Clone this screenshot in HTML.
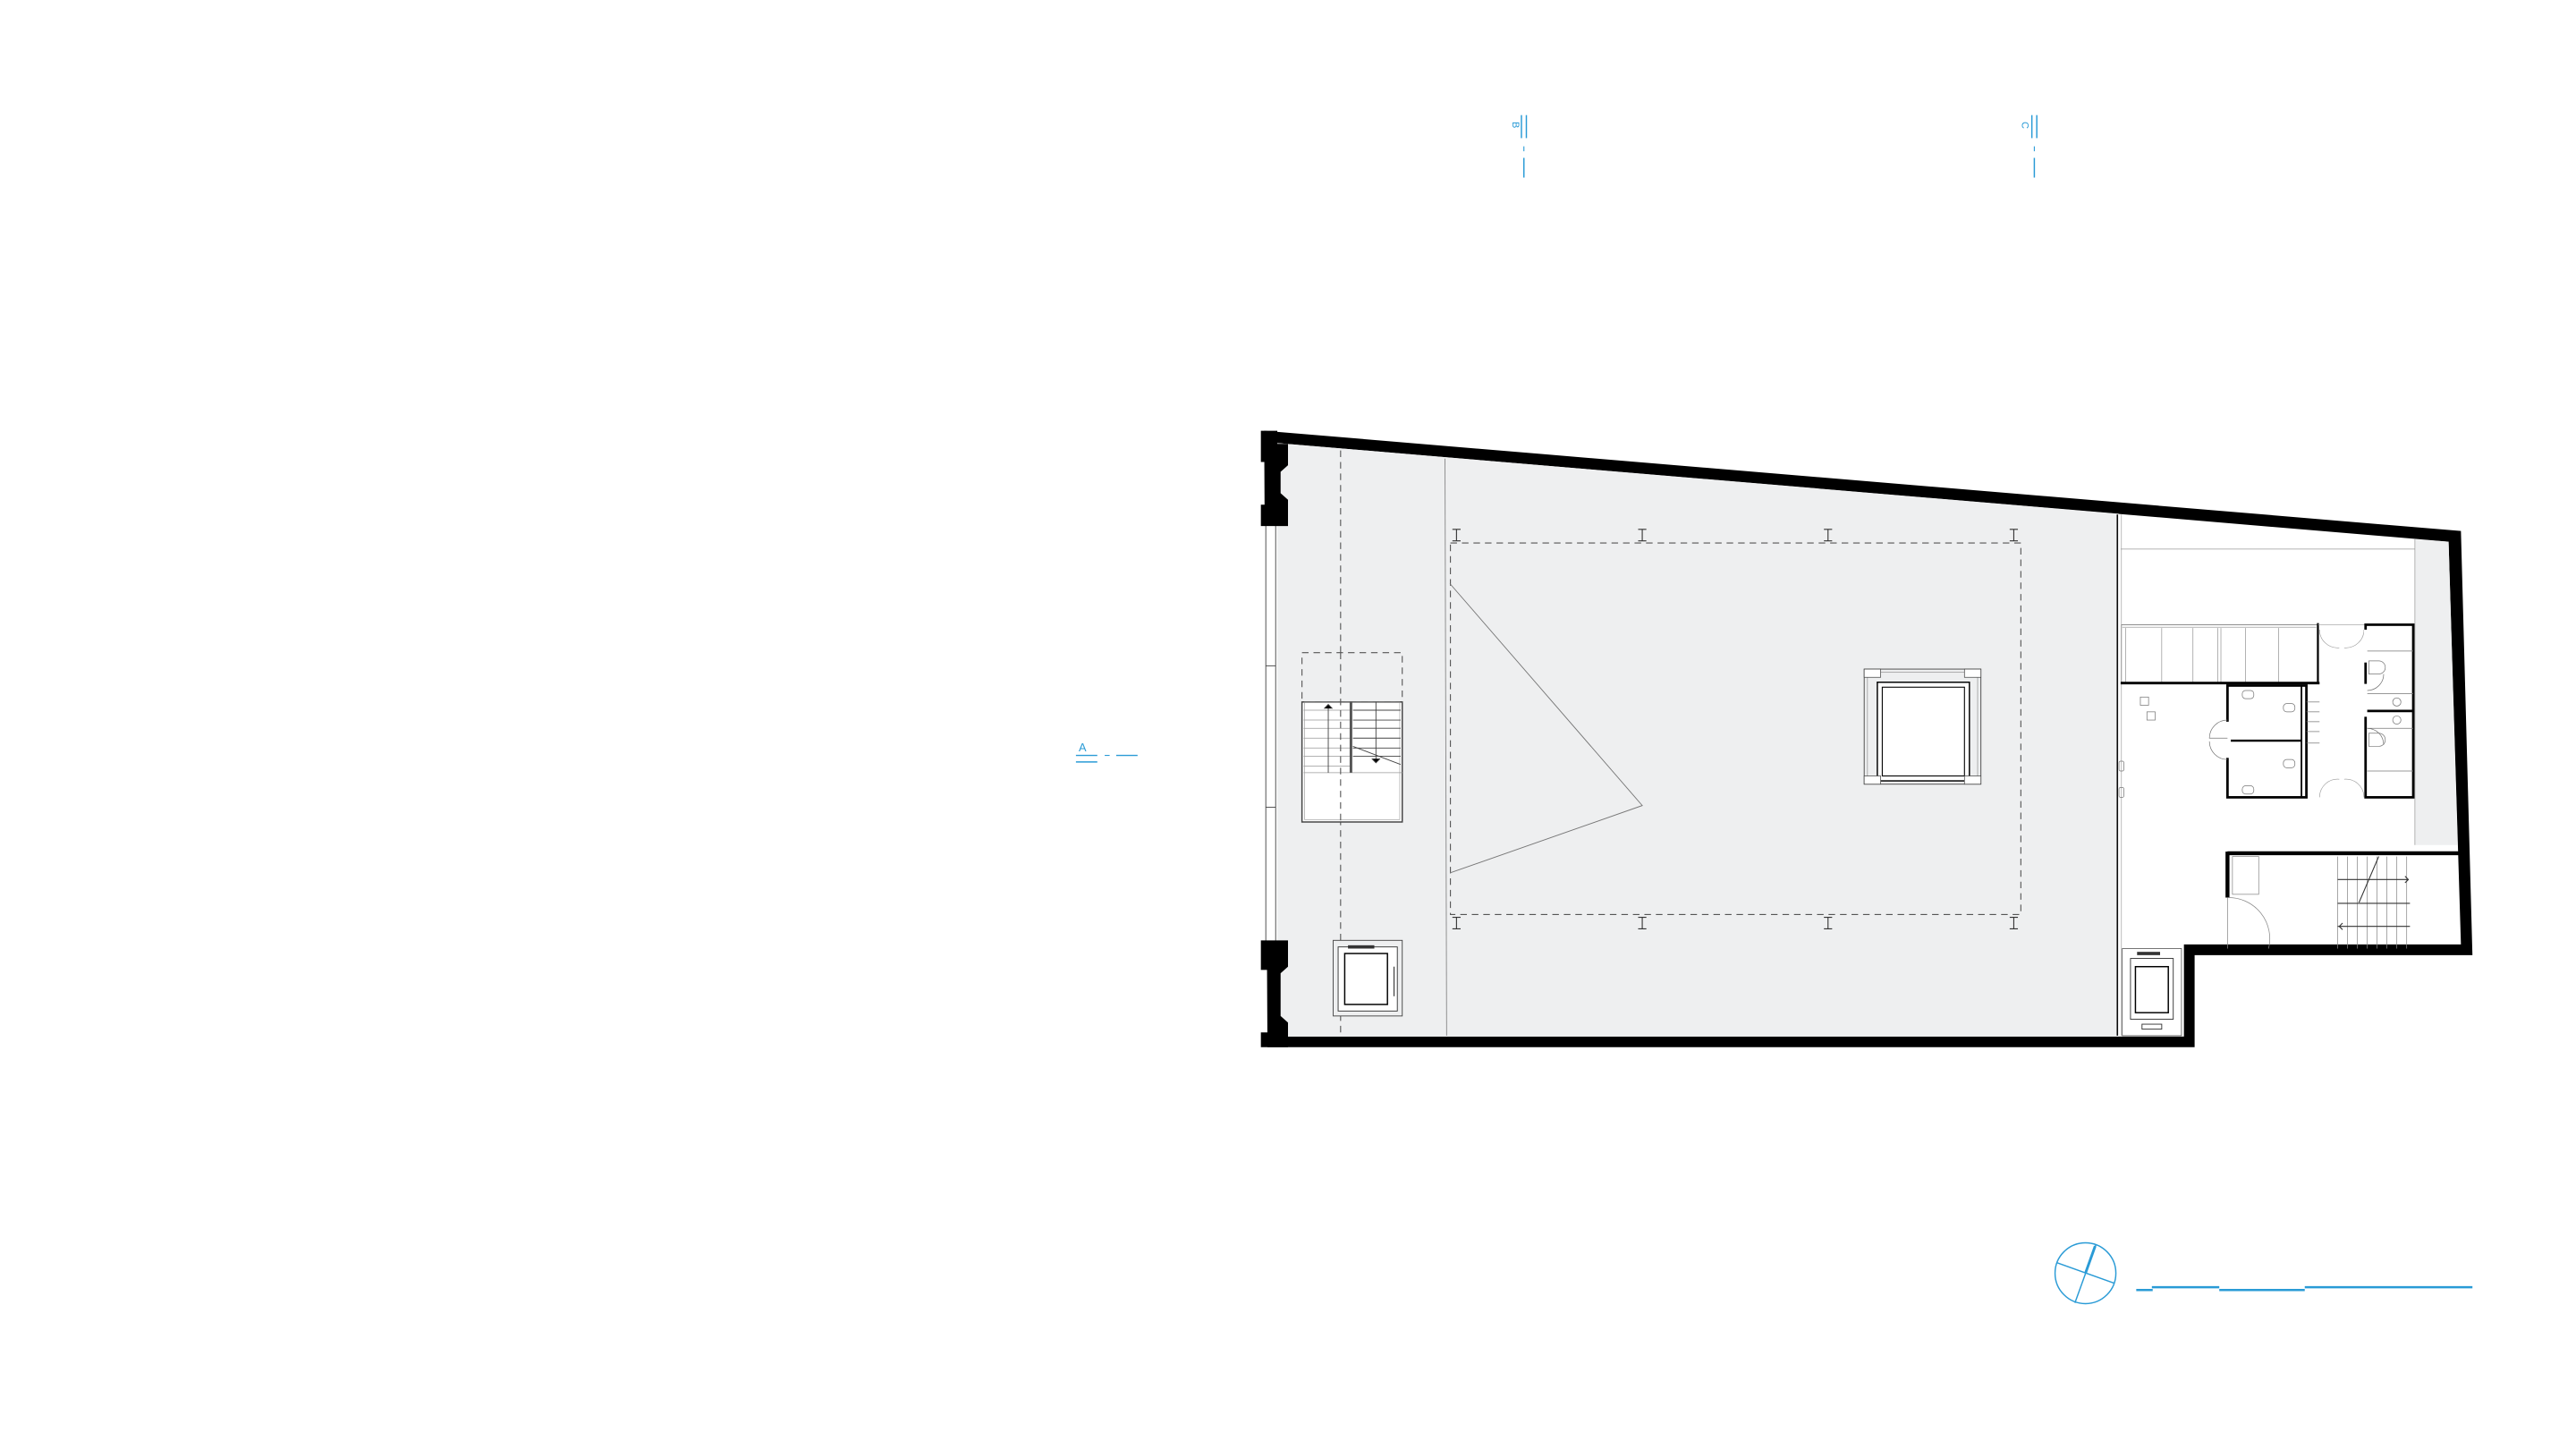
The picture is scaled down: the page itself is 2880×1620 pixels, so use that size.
<!DOCTYPE html>
<html><head><meta charset="utf-8"><style>
html,body{margin:0;padding:0;background:#fff;}
svg{display:block;}
text{font-family:"Liberation Sans",sans-serif;}
</style></head><body>
<svg width="2880" height="1620" viewBox="0 0 1567 881.4" xmlns="http://www.w3.org/2000/svg">
<rect x="0" y="0" width="1567" height="881.4" fill="#fff"/>
<polygon points="769,262 1497,323 1504,581 1335,581 1335,637 771,637" fill="#000"/>
<polygon points="777,269.5 1489.5,329.5 1497,574.5 1328.5,574.5 1328.5,630.5 777,630.5" fill="#fff"/>
<polygon points="777,269.5 1289,312.5 1289,630.5 777,630.5" fill="#eeeff0"/>
<polygon points="1469,328 1489.5,329.5 1495,514 1469,514" fill="#eeeff0"/>
<line x1="1469" y1="328" x2="1469" y2="514" stroke="#999" stroke-width="0.4"/>
<rect x="766" y="318" width="11" height="256" fill="#fff"/>
<line x1="770" y1="318" x2="770" y2="574" stroke="#444" stroke-width="0.5"/>
<line x1="776" y1="318" x2="776" y2="574" stroke="#444" stroke-width="0.5"/>
<line x1="770" y1="405" x2="776" y2="405" stroke="#444" stroke-width="0.5"/>
<line x1="770" y1="491" x2="776" y2="491" stroke="#444" stroke-width="0.5"/>
<polygon points="767,262 777,262 777,270 783.5,270 783.5,283 779,287 779,300 783.5,304 783.5,320 767,320 767,307 771,307 771,281 767,281" fill="#000"/>
<polygon points="767,572 783.5,572 783.5,588 779,592 779,618 783.5,622 783.5,637 767,637 767,628 771,628 771,590 767,590" fill="#000"/>
<line x1="815.5" y1="274" x2="815.5" y2="630" stroke="#555" stroke-width="0.6" stroke-dasharray="4,3"/>
<line x1="879" y1="279" x2="880" y2="630" stroke="#888" stroke-width="0.5"/>
<rect x="882.3" y="330.3" width="347" height="226" fill="none" stroke="#555" stroke-width="0.6" stroke-dasharray="4,3"/>
<g stroke="#333" stroke-width="0.6">
<path d="M883.5 322h5M886 322v7M883.5 329h5"/>
<path d="M996.5 322h5M999 322v7M996.5 329h5"/>
<path d="M1109.5 322h5M1112 322v7M1109.5 329h5"/>
<path d="M1222.5 322h5M1225 322v7M1222.5 329h5"/>
<path d="M883.5 558h5M886 558v7M883.5 565h5"/>
<path d="M996.5 558h5M999 558v7M996.5 565h5"/>
<path d="M1109.5 558h5M1112 558v7M1109.5 565h5"/>
<path d="M1222.5 558h5M1225 558v7M1222.5 565h5"/>
</g>
<polyline points="882,355 999,490 882,531" fill="none" stroke="#777" stroke-width="0.5"/>
<rect x="1134" y="407" width="71" height="70" fill="none" stroke="#444" stroke-width="0.5"/>
<rect x="1136" y="409" width="67" height="66" fill="none" stroke="#777" stroke-width="0.3"/>
<rect x="1142" y="415" width="56" height="60" fill="#fff" stroke="#000" stroke-width="0.8"/>
<rect x="1145" y="418" width="50" height="54" fill="#fff" stroke="#000" stroke-width="0.6"/>
<rect x="1134" y="407" width="10" height="5" fill="#fff" stroke="#444" stroke-width="0.4"/>
<rect x="1195" y="407" width="10" height="5" fill="#fff" stroke="#444" stroke-width="0.4"/>
<rect x="1134" y="472" width="10" height="5" fill="#fff" stroke="#444" stroke-width="0.4"/>
<rect x="1195" y="472" width="10" height="5" fill="#fff" stroke="#444" stroke-width="0.4"/>
<rect x="792" y="397" width="61" height="30" fill="#eeeff0" stroke="#555" stroke-width="0.6" stroke-dasharray="4,3"/>
<rect x="792" y="427" width="61" height="73" fill="#fff" stroke="#444" stroke-width="0.8"/>
<rect x="793.5" y="427" width="58" height="71.5" fill="none" stroke="#888" stroke-width="0.3"/>
<g stroke="#999" stroke-width="0.4">
<line x1="793" y1="432" x2="821" y2="432"/><line x1="793" y1="438" x2="821" y2="438"/><line x1="793" y1="443" x2="821" y2="443"/><line x1="793" y1="449" x2="821" y2="449"/><line x1="793" y1="455" x2="821" y2="455"/><line x1="793" y1="460" x2="821" y2="460"/><line x1="793" y1="466" x2="821" y2="466"/><line x1="793" y1="470" x2="853" y2="470"/>
</g>
<g stroke="#444" stroke-width="0.5">
<line x1="823" y1="432" x2="852" y2="432"/><line x1="823" y1="438" x2="852" y2="438"/><line x1="823" y1="443" x2="852" y2="443"/><line x1="823" y1="449" x2="852" y2="449"/><line x1="823" y1="455" x2="852" y2="455"/><line x1="823" y1="460" x2="852" y2="460"/>
<line x1="823" y1="454" x2="852" y2="465"/>
<line x1="808" y1="429" x2="808" y2="470"/><line x1="837" y1="427" x2="837" y2="464"/>
<path d="M805.5 431l2.5-2.5 2.5 2.5M834.5 461.5l2.5 2.5 2.5-2.5"/>
</g>
<rect x="821" y="427" width="1.6" height="43" fill="#555"/>
<line x1="815.5" y1="397" x2="815.5" y2="500" stroke="#555" stroke-width="0.6" stroke-dasharray="4,3"/>
<rect x="811" y="572" width="42" height="46" fill="#eeeff0" stroke="#444" stroke-width="0.5"/>
<rect x="814" y="576" width="36" height="39" fill="#fff" stroke="#333" stroke-width="0.5"/>
<rect x="818" y="580" width="26" height="31" fill="#fff" stroke="#000" stroke-width="0.8"/>
<rect x="820" y="575" width="16" height="2" fill="#333"/>
<line x1="848" y1="588" x2="848" y2="606" stroke="#333" stroke-width="0.6"/>
<line x1="1288" y1="313" x2="1288" y2="630" stroke="#000" stroke-width="0.8"/>
<line x1="1290.5" y1="313" x2="1290.5" y2="630" stroke="#888" stroke-width="0.3"/>
<line x1="1290" y1="334" x2="1469" y2="334" stroke="#999" stroke-width="0.4"/>
<rect x="1290.5" y="380" width="119.5" height="35" fill="#fff" stroke="#666" stroke-width="0.4"/>
<g stroke="#888" stroke-width="0.35">
<line x1="1291" y1="381.5" x2="1409" y2="381.5"/>
<line x1="1293" y1="382" x2="1293" y2="415"/><line x1="1315" y1="382" x2="1315" y2="415"/><line x1="1334" y1="382" x2="1334" y2="415"/><line x1="1349" y1="382" x2="1349" y2="415"/><line x1="1351" y1="382" x2="1351" y2="415"/><line x1="1366" y1="382" x2="1366" y2="415"/><line x1="1386" y1="382" x2="1386" y2="415"/>
</g>
<line x1="1290" y1="415.5" x2="1411" y2="415.5" stroke="#000" stroke-width="1.5"/>
<line x1="1410" y1="379" x2="1410" y2="416" stroke="#000" stroke-width="1.2"/>
<g fill="none" stroke="#999" stroke-width="0.35">
<path d="M1411 383 a11 11 0 0 0 12 11 M1438 383 a11 11 0 0 1 -12 11"/>
<path d="M1411 485 a11 11 0 0 1 12 -11 M1438 485 a11 11 0 0 0 -12 -11"/>
<line x1="1410" y1="380" x2="1439" y2="380"/>
</g>
<rect x="1439" y="380" width="29" height="105" fill="none" stroke="#000" stroke-width="1.5"/>
<line x1="1439" y1="432.5" x2="1468" y2="432.5" stroke="#000" stroke-width="1.5"/>
<g fill="none" stroke="#777" stroke-width="0.4">
<line x1="1440" y1="396" x2="1468" y2="396"/><line x1="1440" y1="422" x2="1468" y2="422"/>
<line x1="1440" y1="443" x2="1468" y2="443"/><line x1="1440" y1="469" x2="1468" y2="469"/>
<path d="M1441 402h6a4 4 0 0 1 0 8h-6z"/><path d="M1441 446h6a4 4 0 0 1 0 8h-6z"/>
<circle cx="1458" cy="427" r="2.5"/><circle cx="1458" cy="438" r="2.5"/>
<path d="M1440 420 a10 10 0 0 0 10 -10"/><path d="M1440 443 a10 10 0 0 1 10 10"/>
</g>
<rect x="1438" y="383" width="2" height="20" fill="#fff"/><rect x="1438" y="416" width="2" height="20" fill="#fff"/>
<rect x="1355" y="417" width="48" height="68" fill="none" stroke="#000" stroke-width="1.5"/>
<line x1="1355" y1="450.5" x2="1400" y2="450.5" stroke="#000" stroke-width="1.3"/>
<rect x="1353" y="439" width="4" height="22" fill="#fff"/>
<line x1="1400" y1="417" x2="1400" y2="485" stroke="#000" stroke-width="1"/>
<g fill="none" stroke="#777" stroke-width="0.4">
<line x1="1403" y1="427" x2="1411" y2="427"/><line x1="1403" y1="433" x2="1411" y2="433"/><line x1="1403" y1="439" x2="1411" y2="439"/><line x1="1403" y1="445" x2="1411" y2="445"/><line x1="1403" y1="452" x2="1411" y2="452"/>
<path d="M1355 438 a11 11 0 0 0 -11 11 h11 M1355 462 a11 11 0 0 1 -11 -11"/>
<rect x="1364" y="420" width="7" height="5" rx="2"/><rect x="1364" y="478" width="7" height="5" rx="2"/>
<rect x="1389" y="428" width="7" height="5" rx="2"/><rect x="1389" y="462" width="7" height="5" rx="2"/>
<rect x="1302" y="424" width="5" height="5"/><rect x="1306" y="433" width="5" height="5"/>
<rect x="1289" y="463" width="3" height="6" rx="1"/><rect x="1289" y="479" width="3" height="6" rx="1"/>
</g>
<line x1="1355" y1="519" x2="1496" y2="519" stroke="#000" stroke-width="2.4"/>
<line x1="1355" y1="518" x2="1355" y2="546" stroke="#000" stroke-width="2.4"/>
<g fill="none" stroke="#888" stroke-width="0.4">
<rect x="1358" y="521" width="16" height="23"/>
<path d="M1355 546 v31 M1355 546 a25 25 0 0 1 25 31"/>
<line x1="1422" y1="521" x2="1422" y2="577"/><line x1="1428" y1="521" x2="1428" y2="577"/><line x1="1434" y1="521" x2="1434" y2="577"/><line x1="1440" y1="521" x2="1440" y2="577"/><line x1="1446" y1="521" x2="1446" y2="577"/><line x1="1452" y1="521" x2="1452" y2="577"/><line x1="1458" y1="521" x2="1458" y2="577"/><line x1="1464" y1="521" x2="1464" y2="577"/>
</g>
<g stroke="#333" stroke-width="0.6" fill="none">
<line x1="1422" y1="549.5" x2="1466" y2="549.5"/>
<line x1="1422" y1="535" x2="1465" y2="535"/><line x1="1422" y1="563.5" x2="1466" y2="563.5"/>
<line x1="1435" y1="549" x2="1447" y2="521"/>
<path d="M1463 533l2 2-2 2M1425 561.5l-2 2 2 2"/>
</g>
<rect x="1291" y="577" width="36" height="53" fill="#fff" stroke="#444" stroke-width="0.4"/>
<rect x="1296" y="583" width="26" height="37" fill="#fff" stroke="#333" stroke-width="0.5"/>
<rect x="1299" y="588" width="20" height="28" fill="#fff" stroke="#000" stroke-width="0.8"/>
<rect x="1300" y="579" width="14" height="2" fill="#333"/>
<rect x="1303" y="623" width="12" height="3" fill="none" stroke="#333" stroke-width="0.5"/>
<g stroke="#2a9bd6" fill="none">
<line x1="925.5" y1="70" x2="925.5" y2="84" stroke-width="0.8"/>
<line x1="928.5" y1="70" x2="928.5" y2="84" stroke-width="0.8"/>
<line x1="927" y1="89" x2="927" y2="92" stroke-width="0.6"/>
<line x1="927" y1="96" x2="927" y2="108" stroke-width="0.8"/>
<line x1="1236" y1="70" x2="1236" y2="84" stroke-width="0.8"/>
<line x1="1239" y1="70" x2="1239" y2="84" stroke-width="0.8"/>
<line x1="1237.5" y1="89" x2="1237.5" y2="92" stroke-width="0.6"/>
<line x1="1237.5" y1="96" x2="1237.5" y2="108" stroke-width="0.8"/>
<line x1="654.5" y1="459.5" x2="667.5" y2="459.5" stroke-width="0.8"/>
<line x1="654.5" y1="463.5" x2="667.5" y2="463.5" stroke-width="0.8"/>
<line x1="672" y1="459.5" x2="675" y2="459.5" stroke-width="0.6"/>
<line x1="679" y1="459.5" x2="692" y2="459.5" stroke-width="0.8"/>
</g>
<text x="658.5" y="457" font-size="7" fill="#2a9bd6" text-anchor="middle">A</text>
<text x="0" y="0" font-size="6" fill="#2a9bd6" transform="translate(920,74) rotate(90)">B</text>
<text x="0" y="0" font-size="6" fill="#2a9bd6" transform="translate(1230,74) rotate(90)">C</text>
<g stroke="#2a9bd6" fill="none">
<circle cx="1268.6" cy="774.5" r="18.5" stroke-width="0.8"/>
<line x1="1275" y1="757" x2="1262.2" y2="792.5" stroke-width="0.8"/>
<line x1="1274.5" y1="758" x2="1268.6" y2="774.5" stroke-width="1.6"/>
<line x1="1251" y1="768" x2="1286" y2="780.5" stroke-width="0.8"/>
</g>
<g stroke="#2a9bd6" stroke-width="1.4">
<line x1="1299.5" y1="784.7" x2="1309.5" y2="784.7"/>
<line x1="1309" y1="783" x2="1350" y2="783"/>
<line x1="1350" y1="784.7" x2="1402" y2="784.7"/>
<line x1="1402" y1="783" x2="1504" y2="783"/>
</g>
</svg>
</body></html>
